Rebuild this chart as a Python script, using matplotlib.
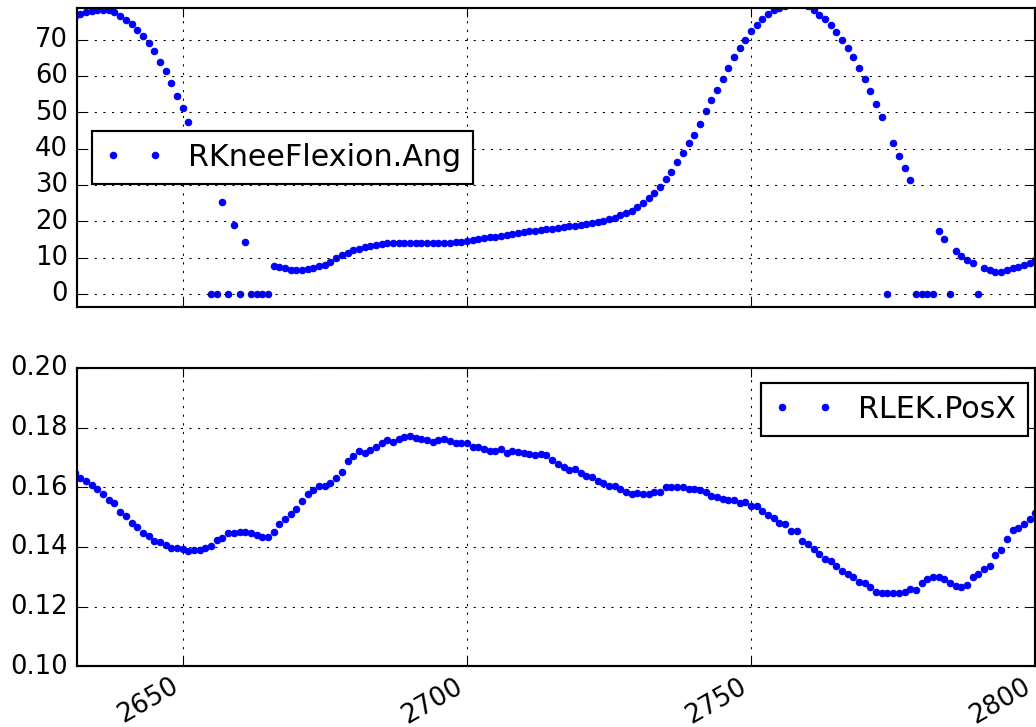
import numpy as np
import matplotlib
matplotlib.use("Agg")
import matplotlib.pyplot as plt
from matplotlib.ticker import MultipleLocator

plt.style.use("classic")

# Frame numbers of the trial segment
frames = np.arange(2631, 2801)

# Right knee flexion angle (deg); zeros are gap-filled frames
knee_flexion = [
    76.4, 77.0, 77.5, 77.9, 78.1, 78.2, 78.1, 77.6, 76.5, 75.4,
    74.3, 72.7, 71.1, 69.0, 66.8, 63.9, 61.3, 58.0, 54.6, 51.1,
    47.3, 43.5, 39.6, 35.6, 0.0, 0.0, 25.4, 0.0, 18.9, 0.0,
    14.3, 0.0, 0.0, 0.0, 0.0, 7.6, 7.3, 7.0, 6.7, 6.6,
    6.6, 6.8, 7.2, 7.6, 8.0, 8.8, 9.8, 10.6, 11.4, 12.0,
    12.5, 12.9, 13.3, 13.6, 13.8, 14.0, 14.1, 14.1, 14.1, 14.1,
    14.0, 14.0, 14.0, 14.0, 14.0, 14.0, 14.1, 14.2, 14.3, 14.5,
    14.8, 15.1, 15.3, 15.6, 15.8, 16.0, 16.2, 16.5, 16.7, 17.0,
    17.2, 17.4, 17.6, 17.8, 18.0, 18.2, 18.4, 18.6, 18.8, 19.0,
    19.3, 19.6, 19.9, 20.2, 20.6, 21.0, 21.6, 22.2, 22.9, 23.8,
    25.0, 26.3, 27.8, 29.3, 31.5, 33.7, 36.3, 38.8, 41.5, 43.8,
    46.9, 50.3, 53.5, 56.2, 59.2, 62.2, 65.2, 67.7, 69.8, 72.3,
    74.1, 75.7, 77.2, 78.3, 78.7, 79.3, 79.8, 80.0, 79.8, 79.2,
    78.3, 76.9, 75.7, 73.9, 72.0, 69.8, 67.7, 65.2, 62.2, 59.2,
    55.9, 52.4, 48.6, 0.0, 41.5, 38.0, 34.6, 31.3, 0.0, 0.0,
    0.0, 0.0, 17.4, 15.1, 0.0, 11.8, 10.5, 9.4, 8.4, 0.0,
    7.1, 6.5, 6.1, 6.1, 6.5, 7.0, 7.5, 7.9, 8.4, 9.3,
]

# Right lateral epicondyle marker, X position (m)
lek_posx = [
    0.1648, 0.1631, 0.1620, 0.1609, 0.1595, 0.1579, 0.1559, 0.1548, 0.1517, 0.1503,
    0.1481, 0.1467, 0.1446, 0.1437, 0.1420, 0.1417, 0.1406, 0.1398, 0.1398, 0.1392,
    0.1387, 0.1389, 0.1389, 0.1398, 0.1403, 0.1423, 0.1429, 0.1446, 0.1448, 0.1451,
    0.1451, 0.1446, 0.1440, 0.1435, 0.1435, 0.1450, 0.1476, 0.1495, 0.1509, 0.1526,
    0.1553, 0.1578, 0.1592, 0.1603, 0.1606, 0.1615, 0.1631, 0.1650, 0.1687, 0.1706,
    0.1723, 0.1714, 0.1726, 0.1735, 0.1748, 0.1759, 0.1752, 0.1762, 0.1768, 0.1772,
    0.1765, 0.1762, 0.1759, 0.1753, 0.1759, 0.1763, 0.1756, 0.1750, 0.1748, 0.1750,
    0.1735, 0.1735, 0.1729, 0.1720, 0.1720, 0.1728, 0.1715, 0.1720, 0.1717, 0.1715,
    0.1711, 0.1709, 0.1711, 0.1709, 0.1692, 0.1678, 0.1668, 0.1659, 0.1661, 0.1648,
    0.1639, 0.1635, 0.1620, 0.1615, 0.1606, 0.1606, 0.1595, 0.1583, 0.1576, 0.1581,
    0.1576, 0.1576, 0.1583, 0.1585, 0.1600, 0.1601, 0.1601, 0.1600, 0.1595, 0.1595,
    0.1590, 0.1583, 0.1570, 0.1567, 0.1561, 0.1556, 0.1557, 0.1548, 0.1550, 0.1539,
    0.1537, 0.1520, 0.1506, 0.1498, 0.1479, 0.1476, 0.1453, 0.1453, 0.1420, 0.1409,
    0.1395, 0.1376, 0.1361, 0.1353, 0.1335, 0.1320, 0.1309, 0.1298, 0.1283, 0.1278,
    0.1265, 0.1248, 0.1246, 0.1246, 0.1246, 0.1246, 0.1248, 0.1259, 0.1257, 0.1281,
    0.1292, 0.1298, 0.1298, 0.1292, 0.1281, 0.1270, 0.1265, 0.1272, 0.1298, 0.1309,
    0.1326, 0.1337, 0.1372, 0.1390, 0.1428, 0.1457, 0.1465, 0.1476, 0.1493, 0.1515,
]

DPI = 155
fig = plt.figure(figsize=(1036.3 / DPI, 727.3 / DPI), dpi=DPI, facecolor="white")
ax1 = fig.add_axes([0.074, 0.577, 0.925, 0.412])
ax2 = fig.add_axes([0.074, 0.0832, 0.925, 0.4106], sharex=ax1)

ax1.plot(frames, knee_flexion, ".", color="b", label="RKneeFlexion.Ang")
ax2.plot(frames, lek_posx, ".", color="b", label="RLEK.PosX")

for ax in (ax1, ax2):
    ax.set_facecolor("white")
    ax.grid(True)

ax1.legend(loc="center left", fontsize=14)
ax2.legend(loc="upper right", fontsize=14, bbox_to_anchor=(1.008, 1.0))

ax1.set_xlim(2631.35, 2800)
ax1.set_ylim(-3.7, 78.8)
ax2.set_ylim(0.10, 0.20)
ax2.xaxis.set_major_locator(MultipleLocator(50))
ax1.yaxis.set_major_locator(MultipleLocator(10))
ax2.yaxis.set_major_locator(MultipleLocator(0.02))
ax2.tick_params(axis="x", pad=3)

plt.setp(ax1.get_xticklabels(), visible=False)
for lbl in ax2.get_xticklabels():
    lbl.set_rotation(30)
    lbl.set_ha("right")

fig.savefig("out.png", dpi=DPI, facecolor="white")
